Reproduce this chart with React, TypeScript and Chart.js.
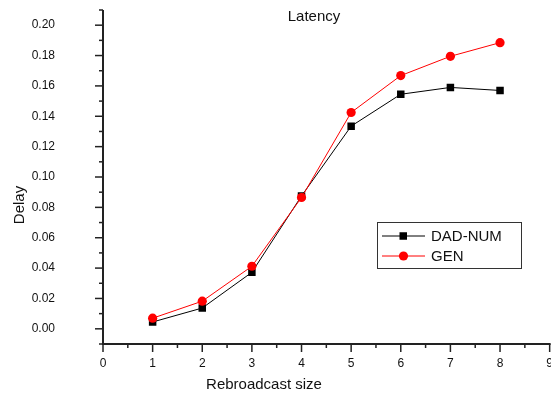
import React, { useEffect, useRef } from "react";
import { Chart, registerables } from "chart.js";

Chart.register(...registerables);

const categories = [1, 2, 3, 4, 5, 6, 7, 8];
const dadNum = [0.0045, 0.0137, 0.0372, 0.0875, 0.1335, 0.1545, 0.159, 0.157];
const gen = [0.007, 0.0182, 0.0412, 0.0865, 0.1425, 0.1668, 0.1795, 0.1885];
const xTicks = [0, 1, 2, 3, 4, 5, 6, 7, 8, 9];
const yTicks = [0, 0.02, 0.04, 0.06, 0.08, 0.1, 0.12, 0.14, 0.16, 0.18, 0.2];

const FONT = "'Liberation Sans', Arial, sans-serif";
const AXIS = "#222222";

const decorPlugin = {
  id: "decor",
  afterDraw(chart: any) {
    const ctx = chart.ctx;
    const xs = chart.scales.x;
    const ys = chart.scales.y;
    const ca = chart.chartArea;
    ctx.save();
    // ticks
    ctx.strokeStyle = AXIS;
    ctx.lineWidth = 1.5;
    for (let i = 0; i <= 18; i++) {
      const v = i * 0.5;
      const px = xs.getPixelForValue(v);
      const len = i % 2 === 0 ? 8 : 4;
      ctx.beginPath();
      ctx.moveTo(px, ca.bottom);
      ctx.lineTo(px, ca.bottom + len);
      ctx.stroke();
    }
    for (let i = -1; i <= 21; i++) {
      const v = i * 0.01;
      const py = ys.getPixelForValue(v);
      const len = i % 2 === 0 ? 8 : 4;
      ctx.beginPath();
      ctx.moveTo(ca.left, py);
      ctx.lineTo(ca.left - len, py);
      ctx.stroke();
    }
    // axis lines
    ctx.lineWidth = 2;
    ctx.beginPath();
    ctx.moveTo(ca.left, ca.top);
    ctx.lineTo(ca.left, ca.bottom);
    ctx.lineTo(ca.right + 1, ca.bottom);
    ctx.stroke();

    // title
    ctx.fillStyle = "#111";
    ctx.font = `15px ${FONT}`;
    ctx.textAlign = "center";
    ctx.textBaseline = "alphabetic";
    ctx.fillText("Latency", 314, 21);

    // axis titles
    ctx.fillText("Rebroadcast size", 264, 389);
    ctx.save();
    ctx.translate(24, 205);
    ctx.rotate(-Math.PI / 2);
    ctx.fillText("Delay", 0, 0);
    ctx.restore();

    // legend
    ctx.lineWidth = 1;
    ctx.strokeStyle = "#333";
    ctx.strokeRect(377.5, 222.5, 144, 46);
    const rows = [
      { label: "DAD-NUM", color: "#000000", shape: "rect", y: 236 },
      { label: "GEN", color: "#ff0000", shape: "circle", y: 256 },
    ];
    rows.forEach((r) => {
      ctx.strokeStyle = r.color;
      ctx.lineWidth = 1;
      ctx.beginPath();
      ctx.moveTo(382, r.y);
      ctx.lineTo(425, r.y);
      ctx.stroke();
      ctx.fillStyle = r.color;
      if (r.shape === "rect") {
        ctx.fillRect(399.5, r.y - 3.75, 7.5, 7.5);
      } else {
        ctx.beginPath();
        ctx.arc(403.5, r.y, 4.6, 0, Math.PI * 2);
        ctx.fill();
      }
      ctx.fillStyle = "#111";
      ctx.textAlign = "left";
      ctx.textBaseline = "middle";
      ctx.font = `15px ${FONT}`;
      ctx.fillText(r.label, 431, r.y + 1);
    });
    ctx.restore();
  },
};

export default function App() {
  const ref = useRef<HTMLCanvasElement | null>(null);
  useEffect(() => {
    document.body.style.margin = "0";
    document.body.style.overflow = "hidden";
    if (!ref.current) return;
    const chart = new Chart(ref.current, {
      type: "line",
      data: {
        datasets: [
          {
            label: "GEN",
            data: categories.map((c, i) => ({ x: c, y: gen[i] })),
            borderColor: "#ff0000",
            backgroundColor: "#ff0000",
            borderWidth: 1,
            pointStyle: "circle",
            pointRadius: 4.6,
            pointBorderWidth: 0,
            tension: 0,
          },
          {
            label: "DAD-NUM",
            data: categories.map((c, i) => ({ x: c, y: dadNum[i] })),
            borderColor: "#000000",
            backgroundColor: "#000000",
            borderWidth: 1,
            pointStyle: "rect",
            pointRadius: 5.3,
            pointBorderWidth: 0,
            tension: 0,
          },
        ],
      },
      options: {
        responsive: false,
        animation: false,
        events: [],
        layout: { padding: { top: 10, right: 4, left: 0, bottom: 0 } },
        plugins: { legend: { display: false }, tooltip: { enabled: false }, title: { display: false } },
        scales: {
          x: {
            type: "linear",
            min: 0,
            max: 9,
            grid: { display: false },
            border: { display: false },
            afterBuildTicks: (s: any) => {
              s.ticks = xTicks.map((v) => ({ value: v }));
            },
            afterFit: (s: any) => {
              s.height = 51;
            },
            ticks: {
              padding: 4,
              maxRotation: 0,
              autoSkip: false,
              color: "#111",
              font: { family: FONT, size: 12 },
              callback: (v: any) => String(v),
            },
          },
          y: {
            type: "linear",
            min: -0.01,
            max: 0.21,
            grid: { display: false },
            border: { display: false },
            afterBuildTicks: (s: any) => {
              s.ticks = yTicks.map((v) => ({ value: v }));
            },
            afterFit: (s: any) => {
              s.width = 103;
              s.paddingTop = 0;
              s.paddingBottom = 0;
            },
            ticks: {
              padding: 40,
              autoSkip: false,
              color: "#111",
              font: { family: FONT, size: 12 },
              callback: (v: any) => Number(v).toFixed(2),
            },
          },
        },
      },
      plugins: [decorPlugin],
    } as any);
    return () => chart.destroy();
  }, []);
  return (
    <div style={{ width: 551, height: 395, overflow: "hidden" }}>
      <canvas ref={ref} width={557} height={395} />
    </div>
  );
}
